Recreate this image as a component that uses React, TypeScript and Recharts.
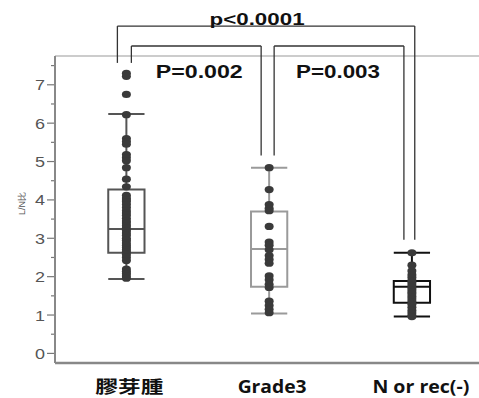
import React from 'react';
import { ComposedChart, Scatter, XAxis, YAxis, ReferenceArea, ReferenceLine } from 'recharts';

// categories
const GROUPS = ['膠芽腫', 'Grade3', 'N or rec(-)'];

// individual L/N ratios per group
const GLIO_VALUES = [
  7.3, 7.22, 6.75, 6.22, 5.6, 5.52, 5.45, 5.18, 5.1, 5.02, 4.84, 4.54, 4.34, 4.12, 4.05, 4.0,
  3.95, 3.88, 3.8, 3.72, 3.66, 3.6, 3.52, 3.45, 3.4, 3.33, 3.27, 3.2, 3.14, 3.08, 3.0, 2.95,
  2.88, 2.82, 2.76, 2.7, 2.65, 2.58, 2.5, 2.42, 2.2, 2.14, 2.08, 2.02, 1.96,
];
const GRADE3_VALUES = [
  4.84, 4.27, 3.88, 3.78, 3.72, 3.31, 2.9, 2.82, 2.7, 2.55, 2.45, 2.35, 2.02, 1.92, 1.8, 1.72,
  1.36, 1.25, 1.15, 1.06,
];
const NREC_VALUES = [
  2.62, 2.3, 2.15, 2.05, 1.98, 1.9, 1.85, 1.78, 1.72, 1.66, 1.6, 1.55, 1.48, 1.42, 1.35, 1.28,
  1.2, 1.12, 1.05, 0.98, 0.96,
];

// box plot summaries
const WHISKER_LOW = [1.94, 1.04, 0.96];
const Q1 = [2.62, 1.74, 1.32];
const MEDIAN = [3.24, 2.72, 1.74];
const Q3 = [4.27, 3.7, 1.89];
const WHISKER_HIGH = [6.24, 4.84, 2.62];

const Y_TICKS = [0, 0.5, 1, 1.5, 2, 2.5, 3, 3.5, 4, 4.5, 5, 5.5, 6, 6.5, 7, 7.5];

// significance brackets (data units)
const BRACKETS = [
  { text: 'p<0.0001', x1: 0.437, x2: 2.52, top: 8.53, left: 7.57, right: 2.96, labelDx: -9, labelDy: -1, size: 17, len: 95, above: true },
  { text: 'P=0.002', x1: 0.535, x2: 1.444, top: 8.01, left: 7.57, right: 5.16, labelDx: 3, labelDy: 32, size: 19, len: 87, above: false },
  { text: 'P=0.003', x1: 1.535, x2: 2.444, top: 8.01, left: 5.16, right: 2.96, labelDx: -1, labelDy: 32, size: 19, len: 84, above: false },
];

const BOX_COLORS = ['#555555', '#9a9a9a', '#111111'];
const DOT_COLOR = '#3a3a3a';
const HALF = 0.127;
const LABEL_SHIFT = [3, 3, 9];
const LABEL_LEN = [68, 69, 97];

const groupX = (i: number) => i + 0.5;
const series = [GLIO_VALUES, GRADE3_VALUES, NREC_VALUES].map((vals, i) =>
  vals.map((v) => ({ x: groupX(i), y: v }))
);

const YTick = (props: any) => {
  const { x, y, payload } = props;
  const major = Number.isInteger(payload.value);
  return (
    <g>
      <line x1={major ? x : x + 4} x2={x + 7} y1={y} y2={y} stroke="#777" strokeWidth={1.2} />
      {major && (
        <text x={x - 2} y={y} dy={5.5} textAnchor="end" fontSize={15} fill="#555"
          fontFamily="Liberation Sans, Arial, sans-serif" textLength={10} lengthAdjust="spacingAndGlyphs">
          {payload.value}
        </text>
      )}
    </g>
  );
};

const XTick = (props: any) => {
  const { x, y, payload, index } = props;
  const i = Math.round(payload.value - 0.5);
  return (
    <text x={x + LABEL_SHIFT[i]} y={y} dy={22} textAnchor="middle" fontSize={17} fontWeight="bold" fill="#111"
      fontFamily="'Open Sans', 'Noto Sans CJK JP', sans-serif" textLength={LABEL_LEN[i]} lengthAdjust="spacingAndGlyphs">
      {GROUPS[i]}
    </text>
  );
};

const bracketLabel = (b: any) => (props: any) => {
  const vb = props.viewBox || {};
  const cx = vb.x + (vb.width || 0) / 2 + b.labelDx;
  return (
    <text x={cx} y={vb.y + b.labelDy} textAnchor="middle" fontSize={b.size} fontWeight="bold" fill="#111"
      fontFamily="Liberation Sans, Arial, sans-serif" textLength={b.len} lengthAdjust="spacingAndGlyphs">
      {b.text}
    </text>
  );
};

export default function App() {
  return (
    <div style={{ position: 'absolute', left: 0, top: 0, background: '#fff' }}>
      <ComposedChart width={479} height={398} margin={{ top: 56, right: 0, bottom: 0, left: 0 }}>
        <XAxis type="number" dataKey="x" domain={[0, 2.97]} ticks={[0.5, 1.5, 2.5]} tick={<XTick />}
          tickLine={false} axisLine={{ stroke: '#888', strokeWidth: 2.5 }} height={35} allowDataOverflow />
        <YAxis type="number" dataKey="y" domain={[-0.25, 7.75]} ticks={Y_TICKS} tick={<YTick />} interval={0}
          tickLine={false} axisLine={{ stroke: '#888', strokeWidth: 2 }} width={55} allowDataOverflow
          label={{
            content: (p: any) => {
              const vb = p.viewBox || {};
              const cy = vb.y + vb.height / 2 - 6;
              return (
                <text transform={`translate(${vb.x + 25},${cy}) rotate(-90)`} textAnchor="middle" fontSize={9}
                  fill="#555" fontFamily="Liberation Sans, Arial, sans-serif">L/N比</text>
              );
            },
          }} />
        <ReferenceLine y={7.75} stroke="#999" strokeWidth={1} />

        {GROUPS.map((g, i) => {
          const c = groupX(i);
          const col = BOX_COLORS[i];
          return [
            <ReferenceArea key={`box${i}`} x1={c - HALF} x2={c + HALF} y1={Q1[i]} y2={Q3[i]}
              fill="none" fillOpacity={0} stroke={col} strokeWidth={2} strokeOpacity={1} />,
            <ReferenceLine key={`med${i}`} segment={[{ x: c - HALF, y: MEDIAN[i] }, { x: c + HALF, y: MEDIAN[i] }]}
              stroke={col} strokeWidth={2} />,
            <ReferenceLine key={`wh${i}`} segment={[{ x: c, y: Q3[i] }, { x: c, y: WHISKER_HIGH[i] }]} stroke={col} strokeWidth={2} />,
            <ReferenceLine key={`wl${i}`} segment={[{ x: c, y: WHISKER_LOW[i] }, { x: c, y: Q1[i] }]} stroke={col} strokeWidth={2} />,
            <ReferenceLine key={`ch${i}`} segment={[{ x: c - HALF, y: WHISKER_HIGH[i] }, { x: c + HALF, y: WHISKER_HIGH[i] }]} stroke={col} strokeWidth={2} />,
            <ReferenceLine key={`cl${i}`} segment={[{ x: c - HALF, y: WHISKER_LOW[i] }, { x: c + HALF, y: WHISKER_LOW[i] }]} stroke={col} strokeWidth={2} />,
          ];
        })}

        {series.map((data, i) => (
          <Scatter key={`s${i}`} data={data} isAnimationActive={false}
            shape={(p: any) => <ellipse cx={p.cx} cy={p.cy} rx={4.5} ry={3.6} fill={DOT_COLOR} />} />
        ))}

        {BRACKETS.map((b, i) => [
          <ReferenceLine key={`bt${i}`} segment={[{ x: b.x1, y: b.top }, { x: b.x2, y: b.top }]} stroke="#333"
            strokeWidth={1.3} ifOverflow="visible" label={{ content: bracketLabel(b) }} />,
          <ReferenceLine key={`bl${i}`} segment={[{ x: b.x1, y: b.top }, { x: b.x1, y: b.left }]} stroke="#333"
            strokeWidth={1.3} ifOverflow="visible" />,
          <ReferenceLine key={`br${i}`} segment={[{ x: b.x2, y: b.top }, { x: b.x2, y: b.right }]} stroke="#333"
            strokeWidth={1.3} ifOverflow="visible" />,
        ])}
      </ComposedChart>
    </div>
  );
}
